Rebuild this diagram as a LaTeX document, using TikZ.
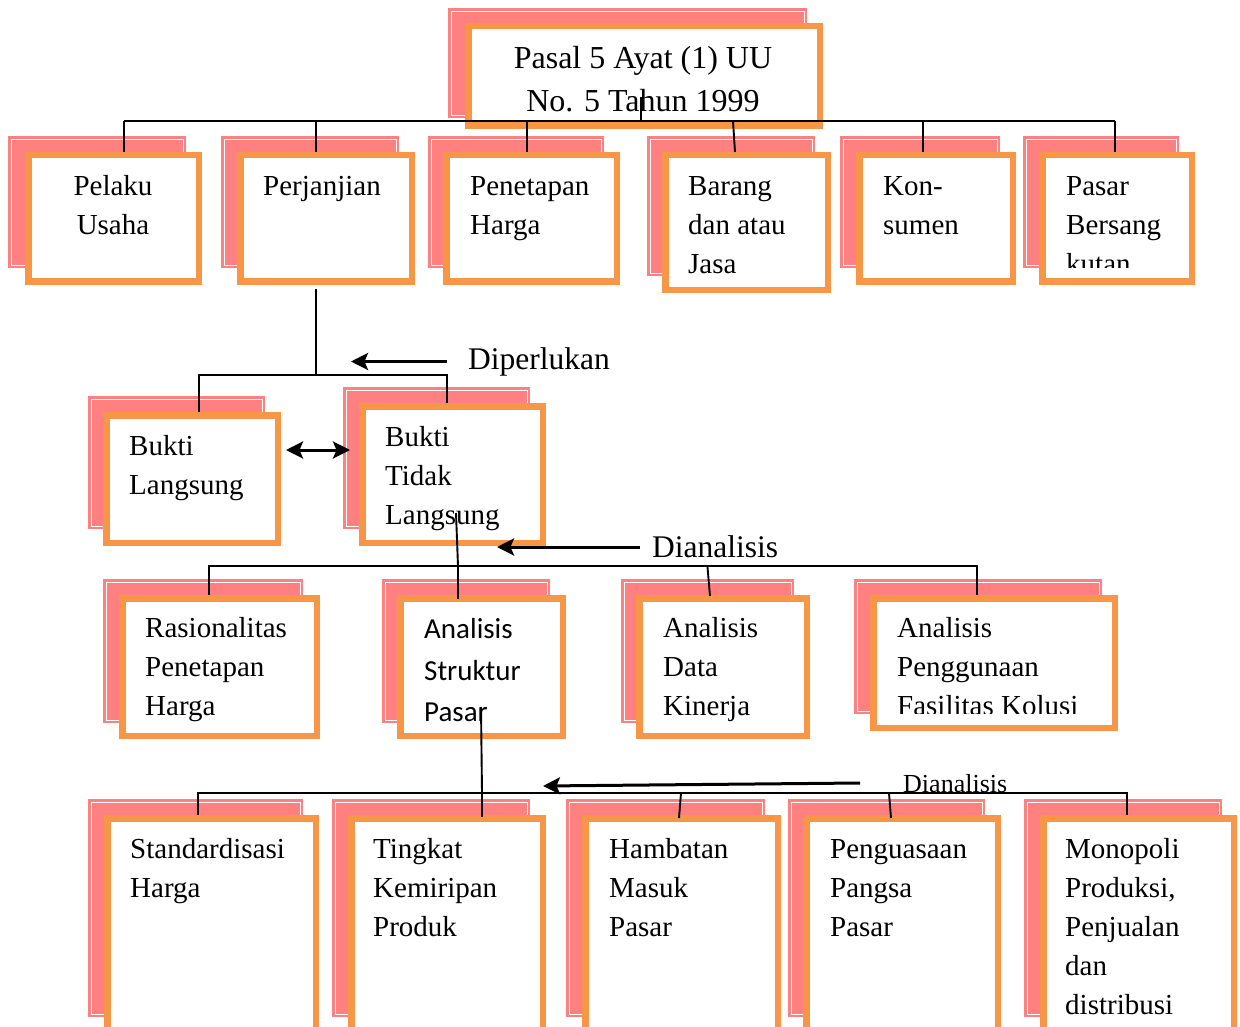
\documentclass[tikz,border=0pt]{standalone}
\usepackage{fontspec}
\setmainfont{Liberation Serif}
\newfontfamily\carl{Carlito}
\usetikzlibrary{arrows.meta,calc}
\definecolor{pinkc}{RGB}{255,128,128}
\definecolor{orangec}{RGB}{247,150,70}
\newcommand\mkbox[9]{%
  \fill[pinkc] (#2,#3) rectangle (#4,#5);
  \draw[white,line width=0.8pt] ($(#2,#3)+(3,3)$) rectangle ($(#4,#5)+(-3,-3)$);
  \pgfmathsetmacro\bw{#8-#6-6.5}\pgfmathsetmacro\bh{#9-#7-6.5}%
  \pgfmathsetmacro\bx{(#6+#8)/2}\pgfmathsetmacro\by{(#7+#9)/2}%
  \node[obox,minimum width=\bw pt,minimum height=\bh pt] (#1) at (\bx,\by) {};
}
\begin{document}
\begin{tikzpicture}[x=1pt,y=-1pt,
  obox/.style={draw=orangec,line width=6.5pt,fill=white,inner sep=0pt,rectangle},
  conn/.style={line width=1.9pt},
  tip/.tip={Stealth[length=17pt,width=17pt,inset=3.5pt]},
  arr/.style={line width=3pt,-tip},
  dbl/.style={line width=3pt,tip-tip},
  txt/.style={inner sep=0pt,anchor=north west,align=left,font=\fontsize{29}{39}\selectfont},
  lbl/.style={inner sep=0pt,anchor=base west,font=\fontsize{31.5}{38}\selectfont}]
\useasboundingbox (0,0) rectangle (1240,1027);
\fill[white] (0,0) rectangle (1240,1027);

% boxes: name, pink x1 y1 x2 y2, orange x1 y1 x2 y2
\mkbox{top}{448}{8}{807}{118}{465}{23}{823}{129}
\mkbox{pelaku}{8}{136}{186}{268}{25}{152}{202}{285}
\mkbox{perj}{221}{136}{399}{268}{237}{152}{415}{285}
\mkbox{penet}{428}{136}{604}{268}{443}{152}{620}{285}
\mkbox{barang}{647}{136}{815}{276}{662}{152}{831}{293}
\mkbox{kons}{840}{136}{1000}{268}{856}{152}{1016}{285}
\mkbox{pasar}{1023}{136}{1179}{268}{1039}{152}{1195}{285}
\mkbox{bl}{88}{396}{265}{529}{103}{412}{281}{546}
\mkbox{btl}{343}{387}{530}{529}{359}{403}{546}{546}
\mkbox{rasio}{103}{579}{303}{723}{119}{595}{320}{739}
\mkbox{struk}{382}{579}{550}{723}{397}{595}{566}{739}
\mkbox{data}{621}{579}{794}{723}{636}{595}{810}{739}
\mkbox{fasil}{854}{579}{1102}{714}{870}{595}{1118}{731}
\mkbox{stand}{88}{799}{303}{1017}{104}{815}{319}{1040}
\mkbox{tingk}{332}{799}{530}{1017}{348}{815}{546}{1040}
\mkbox{hamb}{566}{799}{765}{1017}{582}{815}{781}{1040}
\mkbox{pengu}{788}{799}{985}{1017}{803}{815}{1001}{1040}
\mkbox{mono}{1024}{799}{1222}{1017}{1040}{815}{1237}{1040}

% texts
\node[txt,anchor=north,align=center,font=\fontsize{32}{43}\selectfont] (topT) at (643,37.9) {\strut Pasal 5 Ayat (1) UU\\No. 5 Tahun 1999};
\node[txt,anchor=north,align=center] (pelakuT) at (113,167.7) {\strut Pelaku\\Usaha};
\node[txt] (perjT) at (263,167.7) {\strut Perjanjian};
\node[txt] (penetT) at (470,167.7) {\strut Penetapan\\Harga};
\node[txt] (barangT) at (688,167.7) {\strut Barang\\dan atau\\Jasa};
\node[txt] (konsT) at (883,167.7) {\strut Kon-\\sumen};
\begin{scope}
\clip (1045,158) rectangle (1190,268);
\node[txt] (pasarT) at (1066,167.7) {\strut Pasar\\Bersang\\kutan};
\end{scope}
\node[txt] (blT) at (129,427.7) {\strut Bukti\\Langsung};
\node[txt] (btlT) at (385,418.7) {\strut Bukti\\Tidak\\Langsung};
\node[txt] (rasioT) at (145,610.2) {\strut Rasionalitas\\Penetapan\\Harga};
\node[txt,font=\carl\fontsize{29}{41.5}\selectfont] (strukT) at (424,609.5) {\strut Analisis\\Struktur\\Pasar};
\node[txt] (dataT) at (663,610.2) {\strut Analisis\\Data\\Kinerja};
\begin{scope}
\clip (876,601) rectangle (1112,713);
\node[txt] (fasilT) at (897,610.2) {\strut Analisis\\Penggunaan\\Fasilitas Kolusi};
\end{scope}
\node[txt] (standT) at (130,830.7) {\strut Standardisasi\\Harga};
\node[txt] (tingkT) at (373,830.7) {\strut Tingkat\\Kemiripan\\Produk};
\node[txt] (hambT) at (609,830.7) {\strut Hambatan\\Masuk\\Pasar};
\node[txt] (penguT) at (830,830.7) {\strut Penguasaan\\Pangsa\\Pasar};
\node[txt] (monoT) at (1065,830.7) {\strut Monopoli\\Produksi,\\Penjualan\\dan\\distribusi};

\node[lbl] (lblA) at (468,369) {Diperlukan};
\node[lbl] (lblB) at (652,557) {Dianalisis};
\node[lbl,font=\fontsize{26}{31}\selectfont] (lblC) at (903,792) {Dianalisis};

% connectors level 1
\coordinate (t0) at (641,97);
\coordinate (t1) at (641,121);
\coordinate (bL) at (124,121);
\coordinate (bR) at (1115,121);
\draw[conn] (t0) -- (t1);
\draw[conn] (bL) -- (bR);
\foreach \x/\n in {124/pelaku,316/perj,527/penet,1115/pasar,923/kons}{
  \draw[conn] (\x,121) -- (\x,121 |- \n.north);
}
\coordinate (bg1) at (733,121);
\coordinate (bg2) at (735,152);
\draw[conn] (bg1) -- (bg2);

% level 2
\coordinate (p0) at (316,289);
\coordinate (p1) at (316,375);
\coordinate (p2) at (199,375);
\coordinate (p3) at (447,375);
\draw[conn] (p0) -- (p1);
\draw[conn] (p2 |- bl.north) -- (p2) -- (p3) -- (p3 |- btl.north);
\coordinate (aA1) at (447,361.5);
\coordinate (aA2) at (351,361.5);
\draw[arr] (aA1) -- (aA2);
\coordinate (d1) at (286,450);
\coordinate (d2) at (350,450);
\draw[dbl] (d1) -- (d2);

% level 3
\coordinate (q0) at (456,513);
\coordinate (q1) at (458,566);
\coordinate (qL) at (209,566);
\coordinate (qR) at (977,566);
\draw[conn] (q0) -- (q1);
\draw[conn] (qL |- rasio.north) -- (qL) -- (qR) -- (qR |- fasil.north);
\draw[conn] (q1) -- (458,599);
\coordinate (qd1) at (707.4,566);
\coordinate (qd2) at (710,596);
\draw[conn] (qd1) -- (qd2);
\coordinate (aB1) at (640,547);
\coordinate (aB2) at (497,547);
\draw[arr] (aB1) -- (aB2);

% level 4
\coordinate (r0) at (481,707);
\coordinate (r1) at (482,793);
\coordinate (rL) at (198,793);
\coordinate (rR) at (1127,793);
\draw[conn] (r0) -- (r1);
\draw[conn] (rL |- stand.north) -- (rL) -- (rR) -- (rR |- mono.north);
\draw[conn] (r1) -- (482,817);
\coordinate (rh1) at (681,793);
\coordinate (rh2) at (679,818);
\draw[conn] (rh1) -- (rh2);
\coordinate (rp1) at (889,793);
\coordinate (rp2) at (891,818);
\draw[conn] (rp1) -- (rp2);
\coordinate (aC1) at (860,783);
\coordinate (aC2) at (543,786);
\draw[arr] (aC1) -- (aC2);
\end{tikzpicture}
\end{document}
